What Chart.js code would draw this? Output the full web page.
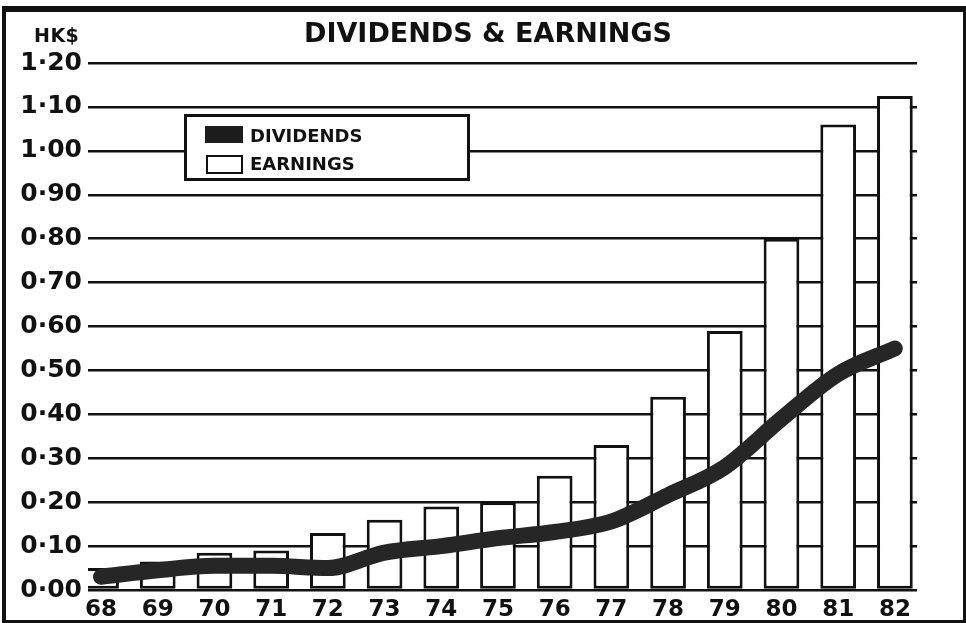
<!DOCTYPE html>
<html>
<head>
<meta charset="utf-8">
<script src="https://cdn.jsdelivr.net/npm/chart.js@4"></script>
<style>
  html, body { margin: 0; padding: 0; background: #fff; }
  #wrap { position: relative; width: 966px; height: 623px; overflow: hidden; font-family: "DejaVu Sans", sans-serif; font-weight: bold; color: #111; }
  #chart { position: absolute; left: 0; top: 0; }
  .frame { position: absolute; left: 2px; top: 6px; width: 964px; height: 617px; box-sizing: border-box;
           border-left: 4px solid #111; border-top: 6px solid #111; border-right: 3px solid #111; border-bottom: 3px solid #111; pointer-events: none; }
  .txt { position: absolute; white-space: nowrap; line-height: 1; }
  #title { left: 304px; top: 19px; font-size: 27px; }
  #unit { left: 34px; top: 26px; font-size: 19px; letter-spacing: 0.5px; }
  #legend { position: absolute; left: 184px; top: 114px; width: 286px; height: 67px; box-sizing: border-box; border: 3px solid #111; background: #fff; }
  .sw { position: absolute; box-sizing: border-box; }
  #sw1 { left: 205px; top: 126px; width: 38px; height: 17px; background: #1c1c1c; }
  #sw2 { left: 206px; top: 155px; width: 37px; height: 19px; background: #fff; border: 2.5px solid #111; }
  .lg { font-size: 18px; left: 250px; }
</style>
</head>
<body>
<div id="wrap">
  <canvas id="chart" width="966" height="623"></canvas>
  <div class="frame"></div>
  <div class="txt" id="title">DIVIDENDS &amp; EARNINGS</div>
  <div class="txt" id="unit">HK$</div>
  <div id="legend"></div>
  <div class="sw" id="sw1"></div>
  <div class="sw" id="sw2"></div>
  <div class="txt lg" style="top:127px">DIVIDENDS</div>
  <div class="txt lg" style="top:155px">EARNINGS</div>
</div>
<script>
// years 1968 - 1982
let years = [68, 69, 70, 71, 72, 73, 74, 75, 76, 77, 78, 79, 80, 81, 82];
let earnings = [0.05, 0.065, 0.085, 0.09, 0.13, 0.16, 0.19, 0.20, 0.26, 0.33, 0.44, 0.59, 0.80, 1.06, 1.125];
let dividends = [0.03, 0.045, 0.055, 0.055, 0.05, 0.085, 0.10, 0.118, 0.132, 0.156, 0.216, 0.28, 0.39, 0.492, 0.55];

let ink = '#111';

function fmtTick(v) {
    return Number(v).toFixed(2).replace('.', '·');
}

Chart.defaults.font.family = '"DejaVu Sans", sans-serif';
Chart.defaults.font.weight = 'bold';
Chart.defaults.color = ink;

new Chart(document.getElementById('chart'), {
    data: {
        datasets: [
            {
                type: 'line',
                label: 'DIVIDENDS',
                data: years.map((y, i) => ({ x: y, y: dividends[i] })),
                borderColor: '#262626',
                borderWidth: 16,
                borderCapStyle: 'round',
                cubicInterpolationMode: 'monotone',
                pointRadius: 0,
                fill: false,
                order: 0
            },
            {
                type: 'bar',
                label: 'EARNINGS',
                data: years.map((y, i) => ({ x: y, y: earnings[i] })),
                backgroundColor: '#fff',
                borderColor: ink,
                borderWidth: 3,
                borderSkipped: false,
                categoryPercentage: 1,
                barPercentage: 0.63,
                order: 1
            }
        ]
    },
    options: {
        responsive: false,
        animation: false,
        events: [],
        layout: { padding: { top: 63, right: 49, bottom: 0, left: 0 } },
        plugins: {
            legend: { display: false },
            tooltip: { enabled: false },
            title: { display: false }
        },
        scales: {
            x: {
                type: 'linear',
                offset: false,
                min: 67.77,
                max: 82.39,
                grid: { display: false, drawTicks: false },
                border: { display: false },
                afterBuildTicks: (scale) => { scale.ticks = years.map(v => ({ value: v })); },
                afterFit: (scale) => { scale.height = 33; },
                ticks: {
                    autoSkip: false,
                    maxRotation: 0,
                    padding: 6,
                    font: { size: 23, weight: 'bold' },
                    callback: (v) => String(v)
                }
            },
            y: {
                min: 0,
                max: 1.2,
                grid: { color: ink, lineWidth: 2.5, drawTicks: false },
                border: { display: false },
                afterFit: (scale) => { scale.width = 88; },
                ticks: {
                    stepSize: 0.1,
                    padding: 6,
                    font: { size: 25, weight: 'bold' },
                    callback: (v) => fmtTick(v)
                }
            }
        }
    }
});
</script>
</body>
</html>
